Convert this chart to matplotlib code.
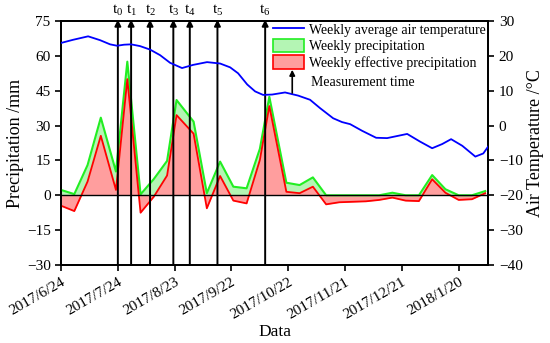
import matplotlib
matplotlib.use("Agg")
import matplotlib.pyplot as plt
from matplotlib.lines import Line2D
from matplotlib.patches import Patch

plt.rcParams['font.family'] = ['Liberation Serif', 'DejaVu Serif']
plt.rcParams['mathtext.fontset'] = 'custom'
plt.rcParams['mathtext.rm'] = 'Liberation Serif'
plt.rcParams['mathtext.it'] = 'Liberation Serif'

# ---- data (days after 2017/6/24) ----
precip_days = [0, 7, 14, 21, 29, 35, 42, 49, 56, 61, 70, 77, 84, 91, 98, 105, 110,
               119, 126, 133, 140, 147, 154, 161, 168, 175, 182, 189, 196, 203, 210, 217, 224]
weekly_precip = [2.3, 0.5, 13.0, 33.4, 10.2, 57.5, 0.4, 7.0, 14.8, 41.0, 31.7, 0.9, 14.5,
                 3.7, 3.0, 20.0, 42.4, 5.4, 4.4, 7.7, 0.0, 0.0, 0.0, 0.0, 0.0, 1.1, 0.0,
                 0.0, 8.7, 2.6, 0.0, 0.0, 1.8]
effective_precip = [-4.5, -6.8, 5.9, 25.6, 2.3, 50.0, -7.5, -0.6, 8.5, 34.5, 26.5, -5.6, 8.3,
                    -2.3, -3.5, 15.2, 38.4, 1.5, 0.9, 3.7, -3.9, -3.0, -2.8, -2.6, -2.0, -1.0,
                    -2.3, -2.5, 6.9, 1.1, -2.0, -1.7, 0.9]

temp_days = [0, 6.3, 14.3, 20.6, 25.9, 29.6, 33.3, 37, 41.7, 47, 52.3, 57.6, 63.9, 69.7,
             77.1, 84, 89.3, 93.5, 98.3, 102.5, 106.7, 111.5, 118.3, 125.2, 131.5, 136.8,
             143.7, 148.4, 152.7, 159, 166.4, 172.2, 177.5, 182.8, 189.6, 196, 201.3, 206,
             211.9, 218.8, 223, 225.6]
temp_values = [23.7, 24.6, 25.6, 24.5, 23.3, 22.9, 23.2, 23.3, 22.8, 21.8, 20.2, 18.0, 16.5,
               17.4, 18.2, 17.8, 16.7, 15.0, 11.8, 9.8, 8.8, 8.9, 9.5, 8.6, 7.4, 5.0, 2.1,
               1.0, 0.4, -1.5, -3.5, -3.6, -3.0, -2.4, -4.6, -6.5, -5.3, -3.9, -5.8, -8.9,
               -8.0, -6.0]

measure_days = [30, 37, 47, 59.3, 68, 82.6, 107.8]
measure_labels = [r'$\mathrm{t}_{%d}$' % i for i in range(7)]

tick_days = [0, 30, 60, 90, 120, 150, 180, 210]
tick_labels = ['2017/6/24', '2017/7/24', '2017/8/23', '2017/9/22', '2017/10/22',
               '2017/11/21', '2017/12/21', '2018/1/20']

# ---- figure ----
fig = plt.figure(figsize=(5.5, 3.43), dpi=100)
ax = fig.add_axes([0.111, 0.2274, 0.777, 0.7114])

green_fill = '#b4f5b4'
green_line = '#22ee22'
red_fill = '#ff9e9e'
red_line = '#ff0000'

ax.fill_between(precip_days, 0, weekly_precip, color=green_fill, lw=0, zorder=1)
ax.fill_between(precip_days, 0, effective_precip, color=red_fill, lw=0, zorder=2)
ax.plot(precip_days, weekly_precip, color=green_line, lw=1.5, zorder=3)
ax.plot(precip_days, effective_precip, color=red_line, lw=1.3, zorder=4)
ax.axhline(0, color='black', lw=1.0, zorder=5)

ax.set_xlim(0, 225.7)
ax.set_ylim(-30, 75)
ax.set_yticks(range(-30, 76, 15))
ax.set_yticklabels([str(v).replace('-', '\u2212') for v in range(-30, 76, 15)])
ax.set_xticks(tick_days)
ax.set_xticklabels(tick_labels, rotation=30, ha='right', va='top', rotation_mode='anchor')
ax.tick_params(axis='both', direction='out', labelsize=11, width=1.2, length=4, colors='black')
for s in ax.spines.values():
    s.set_linewidth(1.3)
ax.set_ylabel('Precipitation /mm', fontsize=13, labelpad=2)
ax.set_xlabel('Data', fontsize=12.5, labelpad=2)

for d, lab in zip(measure_days, measure_labels):
    ax.annotate('', xy=(d, 75.6), xytext=(d, -30), xycoords='data', textcoords='data',
                arrowprops=dict(arrowstyle='-|>', color='black', lw=1.4, mutation_scale=9,
                                shrinkA=0, shrinkB=0), annotation_clip=False, zorder=6)
    ax.text(d, 76.5, lab, ha='center', va='bottom', fontsize=11)

ax2 = ax.twinx()
ax2.plot(temp_days, temp_values, color='#0000ff', lw=1.3, zorder=3)
ax2.set_ylim(-40, 30)
ax2.set_yticks(range(-40, 31, 10))
ax2.set_yticklabels([str(v).replace('-', '\u2212') for v in range(-40, 31, 10)])
ax2.tick_params(axis='y', direction='out', labelsize=11, width=1.2, length=4)
for s in ax2.spines.values():
    s.set_linewidth(1.3)
ax2.set_ylabel('Air Temperature /\u00b0C', fontsize=13, labelpad=3)

handles = [Line2D([], [], color='#0000ff', lw=1.3),
           Patch(facecolor=green_fill, edgecolor=green_line, lw=1.2),
           Patch(facecolor=red_fill, edgecolor=red_line, lw=1.2)]
labels = ['Weekly average air temperature', 'Weekly precipitation',
          'Weekly effective precipitation']
ax2.legend(handles, labels, loc='upper left', bbox_to_anchor=(0.49, 1.005), frameon=False,
           fontsize=10, handlelength=2.2, handleheight=1.1, labelspacing=0.15,
           handletextpad=0.4, borderpad=0.2, borderaxespad=0)

ax2.annotate('', xy=(0.541, 0.80), xytext=(0.541, 0.705), xycoords='axes fraction',
             arrowprops=dict(arrowstyle='-|>', color='black', lw=1.2, mutation_scale=8,
                             shrinkA=0, shrinkB=0))
ax2.text(0.585, 0.747, 'Measurement time', transform=ax2.transAxes, fontsize=10,
         ha='left', va='center')

fig.savefig('out.png', dpi=100)
